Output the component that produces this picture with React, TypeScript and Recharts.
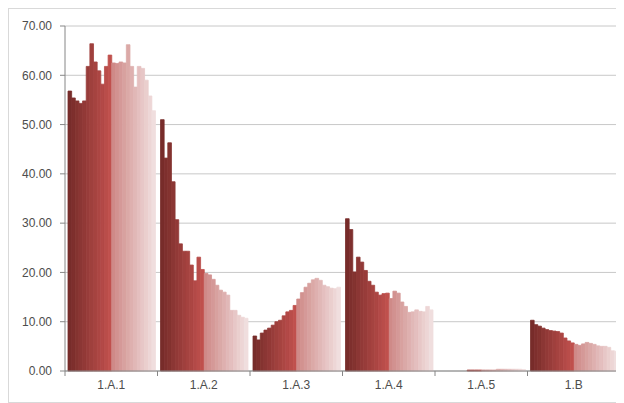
import { BarChart, Bar, XAxis, YAxis, CartesianGrid } from "recharts";

const categories = ["1.A.1", "1.A.2", "1.A.3", "1.A.4", "1.A.5", "1.B"];

const years = [
  1990, 1991, 1992, 1993, 1994, 1995, 1996, 1997, 1998, 1999, 2000, 2001,
  2002, 2003, 2004, 2005, 2006, 2007, 2008, 2009, 2010, 2011, 2012, 2013,
];

// one value per year, per category
const energyIndustries = [
  56.8, 55.4, 54.8, 54.3, 54.8, 61.8, 66.4, 62.7, 60.9, 58.2, 61.8, 64.1,
  62.5, 62.4, 62.7, 62.5, 66.2, 61.8, 57.6, 61.8, 61.4, 59.0, 55.8, 52.8,
];
const manufacturing = [
  51.0, 43.2, 46.3, 38.4, 30.7, 25.8, 24.3, 24.3, 21.5, 18.3, 23.1, 20.6,
  19.8, 19.5, 18.6, 17.4, 16.4, 16.0, 15.4, 12.3, 12.3, 11.3, 10.9, 10.7,
];
const transport = [
  7.1, 6.3, 7.7, 8.3, 8.7, 9.3, 10.0, 10.3, 11.2, 12.0, 12.3, 13.3,
  14.6, 15.9, 17.0, 17.8, 18.5, 18.8, 18.4, 17.4, 17.1, 16.8, 16.7, 17.0,
];
const otherSectors = [
  30.9, 28.7, 20.1, 23.1, 22.1, 20.4, 18.2, 17.4, 16.0, 15.4, 15.7, 15.8,
  14.7, 16.2, 15.8, 14.0, 13.1, 11.9, 12.0, 12.4, 12.1, 12.0, 13.1, 12.4,
];
const otherEnergy = [
  0, 0, 0, 0, 0, 0, 0, 0, 0.2, 0.2, 0.2, 0.2,
  0.2, 0.2, 0.2, 0.2, 0.35, 0.35, 0.35, 0.35, 0.35, 0.35, 0.35, 0.3,
];
const fugitive = [
  10.3, 9.4, 9.1, 8.7, 8.4, 8.2, 8.1, 8.0, 7.7, 6.7, 6.1, 5.7,
  5.4, 5.2, 5.5, 5.8, 5.6, 5.4, 5.1, 5.0, 5.0, 4.8, 4.1, 4.0,
];

const seriesByCategory = [energyIndustries, manufacturing, transport, otherSectors, otherEnergy, fugitive];

const yTicks = [0, 10, 20, 30, 40, 50, 60, 70];

const data = categories.map((name, ci) => {
  const row: Record<string, string | number> = { name };
  years.forEach((y, i) => {
    row[`y${y}`] = seriesByCategory[ci][i];
  });
  return row;
});

const mix = (a: number[], b: number[], t: number) =>
  "#" + a.map((v, k) => Math.round(v + (b[k] - v) * t).toString(16).padStart(2, "0")).join("");

// dark red -> accent red for the first half, pale tints for the second
const barColor = (i: number) =>
  i < 12
    ? mix([0x77, 0x2c, 0x2a], [0xc0, 0x50, 0x4d], i / 11)
    : mix([0xcf, 0x8a, 0x88], [0xf0, 0xde, 0xde], (i - 12) / 11);

const font = "'Liberation Sans', Arial, sans-serif";
const textColor = "#4d4d4d";

const CategoryTick = (props: any) => {
  const { x, y, payload, index } = props;
  const off = payload.offset || 46.25;
  return (
    <g>
      <line x1={x - off} y1={y} x2={x - off} y2={y + 5} stroke="#868686" />
      {index === categories.length - 1 && (
        <line x1={x + off} y1={y} x2={x + off} y2={y + 5} stroke="#868686" />
      )}
      <text x={x} y={y + 18} textAnchor="middle" fill={textColor} fontSize={12} fontFamily={font}>
        {payload.value}
      </text>
    </g>
  );
};

export default function App() {
  return (
    <div style={{ width: 614, height: 393, border: "1px solid #d9d9d9", background: "#fff" }}>
      <BarChart
        width={612}
        height={391}
        data={data}
        margin={{ top: 17, right: 1, left: 0, bottom: 0 }}
        barGap={0}
        barSize={87.5 / years.length}
      >
        <CartesianGrid vertical={false} stroke="#c8c8c8" />
        <XAxis
          dataKey="name"
          height={29}
          axisLine={{ stroke: "#868686" }}
          tickLine={false}
          tickSize={0}
          tickMargin={0}
          tick={<CategoryTick />}
          interval={0}
        />
        <YAxis
          width={56}
          domain={[0, 70]}
          ticks={yTicks}
          interval={0}
          tickFormatter={(v: number) => v.toFixed(2)}
          axisLine={{ stroke: "#868686" }}
          tickLine={{ stroke: "#868686" }}
          tickSize={5}
          tickMargin={8}
          tick={{ fill: textColor, fontSize: 12, fontFamily: font }}
        />
        {years.map((y, i) => (
          <Bar
            key={y}
            dataKey={`y${y}`}
            fill={barColor(i)}
            stroke={barColor(i)}
            strokeWidth={0.8}
            isAnimationActive={false}
          />
        ))}
      </BarChart>
    </div>
  );
}
